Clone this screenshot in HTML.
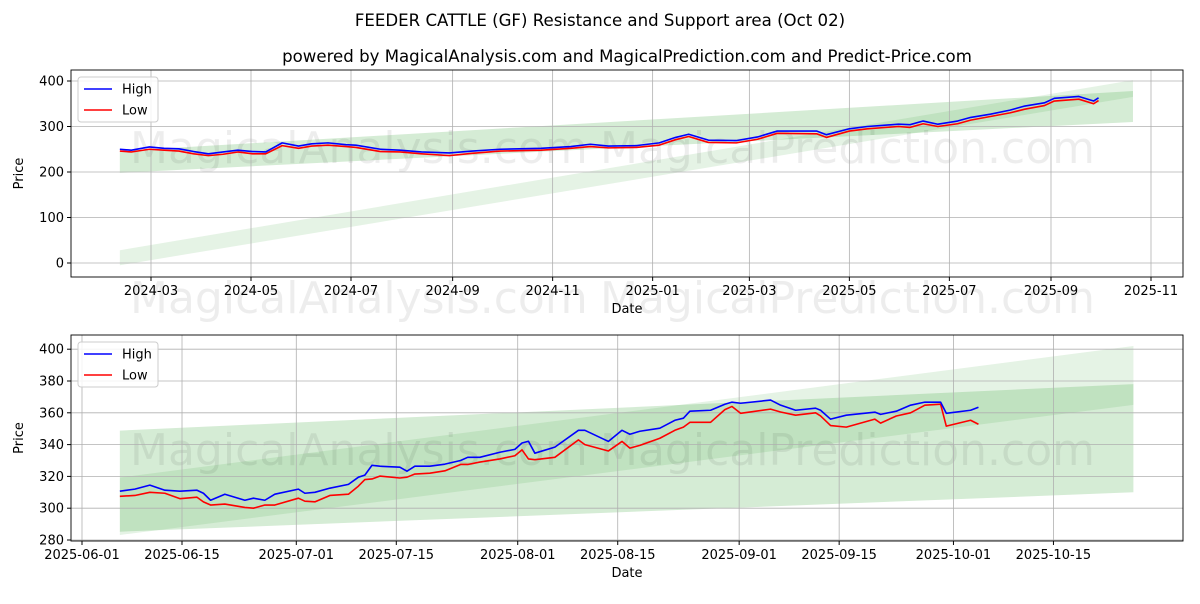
<!DOCTYPE html>
<html><head><meta charset="utf-8"><style>
body{margin:0;background:#fff;width:1200px;height:600px;overflow:hidden;font-family:"DejaVu Sans","Liberation Sans",sans-serif}
svg text{font-family:"DejaVu Sans","Liberation Sans",sans-serif}
</style></head><body>
<svg id="c" width="1200" height="600">
<text x="600" y="26" text-anchor="middle" font-size="16.6">FEEDER CATTLE (GF) Resistance and Support area (Oct 02)</text>
<text x="627" y="62" text-anchor="middle" font-size="16.6">powered by MagicalAnalysis.com and MagicalPrediction.com and Predict-Price.com</text>
</svg>
<script>
// Top chart data: day offsets from 2024-03-01
const topDays=[-19,-12,-1,8,17,26,35,44,53,62,70,80,90,98,108,119,125,140,152,165,182,196,213,238,256,268,279,296,310,320,328,340,357,370,382,406,412,426,437,456,463,471,480,492,500,512,524,533,545,551,566,575,578];
const topHigh=[250,248,255,252,251,245,240,244,248,245,244,264,257,262,264,260,259,250,248,244,242,246,250,252,256,261,257,258,264,276,283,270,269,277,290,290,282,295,300,305,304,312,305,312,320,327,336,345,352,362,366,356,363];
const topLow=[246,244,250,248,246,240,236,239,244,240,240,258,252,257,259,256,254,245,244,240,236,241,246,248,252,256,253,254,259,271,278,265,264,272,285,284,276,290,295,300,298,306,300,306,314,322,330,338,346,356,360,350,357];
// Bottom chart data: day offsets from 2025-06-01
const botDays=[5.3,7.4,9.5,11.6,13.7,16.1,17,18,20,22.8,24,25.6,27,30.3,31.2,32.6,34.7,37.3,38.7,39.6,40.6,41.7,44.5,45.5,46.6,48.7,50.8,53,54,55.7,58.5,60.6,61.6,62.5,63.4,66.2,69.5,70.4,73.7,75.6,76.7,78.1,80.9,83,84.2,85.1,88,90,91,92.2,96.4,97.8,99.9,102.7,103.4,104.8,107,111,111.8,114,116,118,120.2,121,124.4,125.5];
const botHigh=[310.7,312,314.5,311.3,310.7,311.3,309.4,305,308.8,305,306.3,305,308.8,312,309.4,310,312.6,315,319.5,320.8,327,326.4,325.8,323.3,326.4,326.4,327.7,330,332,332,335.2,337,341,342.1,334.6,338.4,349,349,342,349,346.5,348.4,350.3,355.3,356.6,361,361.6,365.4,366.7,366,368,364.8,361.6,362.9,361.6,356,358.5,360.4,359,361,364.8,366.7,366.7,359.7,361.6,363.5];
const botLow=[307.5,308,310,309.4,306,306.9,304,302,302.6,300.5,300,302,302,306.3,304.4,304,308,308.8,313.9,318,318.4,320.2,319,319.5,321.5,322,323.5,327.5,327.5,329,331,333,336.7,331,330.5,332,343,340,336,342,337.8,339.5,344,349,351,354,354,362,364,359.7,362.3,360.5,358.5,360,358,352,351,356,353.5,358,360,364.8,365.4,351.6,355.3,352.8];
// Bands: [startLow,startHigh,endLow,endHigh]; days from 2024-03-01
const bandStartEnd=[-19,599];
const band1=[198,246,310,378];
const band2=[-5,28,365,402];
const topYTicks=[0,100,200,300,400];
const topXTicks=["2024-03","2024-05","2024-07","2024-09","2024-11","2025-01","2025-03","2025-05","2025-07","2025-09","2025-11"];
const topXTickDays=[0,61,122,184,245,306,365,426,487,549,610];
const botYTicks=[280,300,320,340,360,380,400];
const botXTicks=["2025-06-01","2025-06-15","2025-07-01","2025-07-15","2025-08-01","2025-08-15","2025-09-01","2025-09-15","2025-10-01","2025-10-15"];
const botXTickDays=[0,14,30,44,61,75,92,106,122,136];

const NS="http://www.w3.org/2000/svg",svg=document.getElementById('c');
function mk(t,a,p){const e=document.createElementNS(NS,t);for(const k in a)e.setAttribute(k,a[k]);(p||svg).appendChild(e);return e;}

function drawPanel(o){
  const g=mk('g',{});
  
  
  const X=d=>o.xz+d*o.pxd, Y=v=>o.yRef-(v-o.vRef)*o.pxv;
  [[band2,0.12,'band-wide-steep'],[band1,0.2,'band-regression']].forEach(([b,op,nm])=>{
    const s=bandStartEnd[0]-o.bandShift,e=bandStartEnd[1]-o.bandShift;
    let ds=Math.max(s,o.bandFrom),f=(ds-s)/(e-s);
    const lo0=b[0]+(b[2]-b[0])*f,hi0=b[1]+(b[3]-b[1])*f;
    const xe=X(e)*o.bandStretch+X(ds)*(1-o.bandStretch);
    const p=mk('polygon',{points:`${X(ds)},${Y(hi0)} ${xe},${Y(b[3])} ${xe},${Y(b[2])} ${X(ds)},${Y(lo0)}`,fill:'#2ca02c','fill-opacity':op},g);
    
    
  });
  o.wm.forEach(w=>{const t=mk('text',{x:w[0],y:w[1],'font-size':44,fill:'#000','fill-opacity':0.07},g);t.textContent=w[2];
    });
  o.yt.forEach(v=>{mk('line',{x1:o.x0,x2:o.x1,y1:Y(v),y2:Y(v),stroke:'#b0b0b0','stroke-width':0.8},g);
    mk('line',{x1:o.x0-4,x2:o.x0,y1:Y(v),y2:Y(v),stroke:'#000'},g);
    const t=mk('text',{x:o.x0-7,y:Y(v)+4.5,'text-anchor':'end','font-size':13},g);t.textContent=v;
    });
  o.xt.forEach((l,i)=>{const x=X(o.xtd[i]);mk('line',{x1:x,x2:x,y1:o.y0,y2:o.y1,stroke:'#b0b0b0','stroke-width':0.8},g);
    mk('line',{x1:x,x2:x,y1:o.y1,y2:o.y1+4,stroke:'#000'},g);
    const t=mk('text',{x:x,y:o.y1+18,'text-anchor':'middle','font-size':13},g);t.textContent=l;
    });
  [[o.lo,'#ff0000','low-line'],[o.hi,'#0000ff','high-line']].forEach(([arr,c,nm])=>{
    const pl=mk('polyline',{points:arr.map((v,i)=>X(o.days[i])+','+Y(v)).join(' '),fill:'none',stroke:c,'stroke-width':1.6,'stroke-linejoin':'round'},g);
    });
  mk('rect',{x:o.x0,y:o.y0,width:o.x1-o.x0,height:o.y1-o.y0,fill:'none',stroke:'#000','stroke-width':0.9},g);
  const lg=mk('g',{},g);
  mk('rect',{x:o.x0+7,y:o.y0+7,width:80,height:45,rx:3,fill:'#fff','fill-opacity':0.85,stroke:'#ccc'},lg);
  [['High','#0000ff'],['Low','#ff0000']].forEach((e,i)=>{const yy=o.y0+19+i*21;
    mk('line',{x1:o.x0+13,x2:o.x0+41,y1:yy,y2:yy,stroke:e[1],'stroke-width':1.6},lg);
    const t=mk('text',{x:o.x0+51,y:yy+4.5,'font-size':13},lg);t.textContent=e[0];
    });
  const xl=mk('text',{x:(o.x0+o.x1)/2,y:o.y1+36,'text-anchor':'middle','font-size':13},g);xl.textContent='Date';
  
  const yl=mk('text',{x:0,y:0,'text-anchor':'middle','font-size':13,transform:`translate(${o.x0-48},${(o.y0+o.y1)/2}) rotate(-90)`},g);yl.textContent='Price';
  
}
drawPanel({name:'top-panel',x0:71,x1:1183,y0:70,y1:277,xz:151,pxd:1000/610,yRef:263,vRef:0,pxv:0.455,
  days:topDays,hi:topHigh,lo:topLow,yt:topYTicks,xt:topXTicks,xtd:topXTickDays,bandShift:0,bandFrom:-19,bandStretch:1,
  wm:[[130,163,'MagicalAnalysis.com'],[600,163,'MagicalPrediction.com'],[130,313,'MagicalAnalysis.com'],[600,313,'MagicalPrediction.com']]});
drawPanel({name:'bottom-panel',x0:71,x1:1183,y0:335,y1:541,xz:82,pxd:7.143,yRef:540,vRef:280,pxv:1.59,
  days:botDays,hi:botHigh,lo:botLow,yt:botYTicks,xt:botXTicks,xtd:botXTickDays,bandShift:457,bandFrom:5.3,bandStretch:1.038,
  wm:[[130,465,'MagicalAnalysis.com'],[600,465,'MagicalPrediction.com']]});
</script>
</body></html>
